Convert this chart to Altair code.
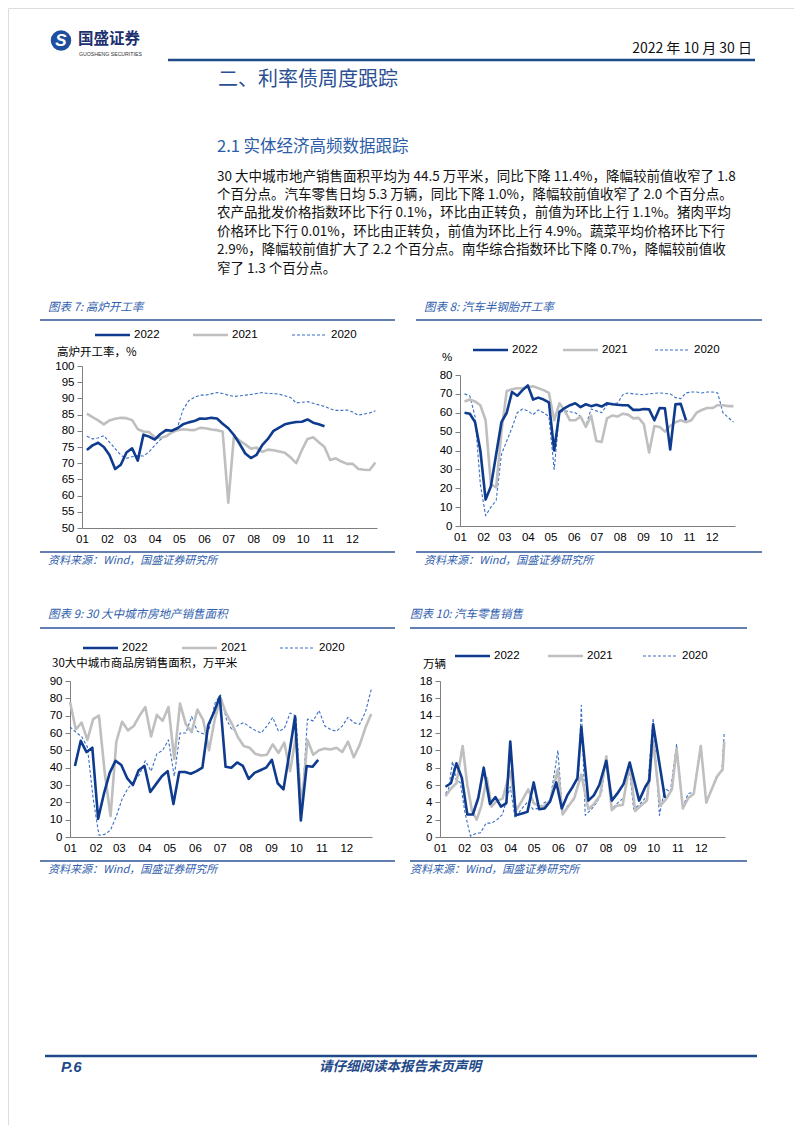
import altair as alt
import numpy as np
import pandas as pd

CJK = "Noto Sans CJK SC"
LAT = "Liberation Sans"
W, H = 786, 1117
M = 8

BLUE22 = "#0e3b8e"
GRAY21 = "#bfbfbf"
BLUE20 = "#3a6fc4"
HEAD = "#1f4a8a"
CAP = "#3060ad"
AX = "#7f7f7f"

# ---------------- data ----------------
years = ["2022", "2021", "2020"]

# weekly grids
wk22 = pd.date_range("2022-01-07", periods=52, freq="7D")
wk21 = pd.date_range("2022-01-01", periods=53, freq="7D")

# Chart 7: blast furnace operating rate (%)
c7_2022 = [74.1, 75.5, 76.3, 75.0, 72.5, 68.2, 69.5, 73.3, 74.6, 70.8, 78.8, 78.2, 77.3, 79.0,
           80.2, 80.0, 80.8, 82.0, 82.6, 83.0, 83.8, 83.7, 84.0, 83.8, 82.2, 80.8, 78.7, 76.0,
           73.0, 71.6, 72.6, 75.6, 77.5, 80.0, 81.0, 82.0, 82.4, 82.7, 82.8, 83.5, 82.5, 82.0, 81.4]
c7_2021 = [85.3, 84.2, 83.2, 82.0, 83.2, 83.7, 84.0, 83.9, 83.3, 80.5, 79.8, 79.6, 78.0, 77.8,
           78.3, 79.5, 80.2, 80.5, 80.3, 80.2, 80.9, 80.8, 80.4, 80.2, 79.8, 57.8, 78.5, 77.0,
           75.8, 74.5, 74.8, 73.5, 74.2, 74.0, 73.6, 73.2, 71.8, 70.0, 74.0, 77.5, 78.0, 76.5,
           75.0, 71.0, 71.5, 70.5, 69.8, 69.8, 68.2, 68.0, 67.9, 70.2]
c7_2020 = [78.3, 77.5, 77.8, 78.5, 76.5, 74.5, 72.5, 71.5, 72.0, 72.3, 72.2, 73.5, 75.5, 77.3,
           78.5, 79.5, 81.0, 86.5, 89.3, 90.3, 91.0, 91.0, 91.4, 91.8, 91.5, 91.0, 90.6, 90.8,
           91.0, 91.2, 91.5, 91.8, 91.5, 91.5, 91.3, 90.8, 90.3, 88.6, 88.8, 89.0, 88.5, 88.0,
           87.5, 86.8, 86.3, 86.3, 86.4, 85.8, 84.8, 85.2, 85.5, 86.2]

# Chart 8: semi-steel tyre operating rate (%)
c8_2022 = [60, 59.5, 55, 40, 14, 21, 38, 55, 60, 71, 69, 72, 74.5, 67, 68, 67, 65.5, 40, 60.5,
           62.5, 64, 65, 63, 64.5, 63.5, 64.2, 63.3, 65, 64.5, 64.2, 64, 64, 61.5, 61.5, 62, 61.8,
           56, 62.5, 62.3, 40.5, 64.5, 64.7, 56]
c8_2021 = [66, 67, 66, 64, 56, 22, 20.5, 50, 71.5, 72.5, 73, 73, 73.5, 74, 73, 72, 70.5, 56, 65,
           61, 56, 56, 58, 52.5, 58.5, 45, 44.5, 57, 58.5, 58, 59.5, 59, 57, 57.3, 54, 39, 53,
           52.5, 50, 53, 55, 56, 55, 56, 60, 61.5, 62.5, 62.5, 64, 64, 63.5, 63.5]
c8_2020 = [70, 69, 58, 22, 5.5, 10, 13.5, 38, 45, 52, 60, 62, 61, 59, 61.5, 60, 58, 30, 60, 61,
           60.5, 60, 58, 53, 62, 61, 60, 64, 65, 65, 69.5, 70.5, 70, 69.8, 69.5, 70, 70.3, 70.5,
           70.2, 70, 68, 67.5, 70.5, 71, 71, 70.5, 71, 71, 70.5, 60, 57.5, 55]

# Chart 9: 30-city housing sales area (10k m2)
c9_2022 = [41, 55.5, 49, 51.5, 10.5, 25, 37, 44, 41.5, 34, 30, 38.5, 41, 26, 30.5, 35, 38, 19,
           37.5, 37.5, 36.5, 38, 40, 64.5, 72, 81, 40.5, 40, 43, 41, 33.5, 37, 38.5, 40, 44.5,
           31, 27.5, 48, 69.5, 9.5, 41, 40.5, 44.5]
c9_2021 = [78, 62, 66, 56, 68, 70, 37, 12, 55, 66.5, 61.5, 64, 70, 75, 58, 70.5, 67, 75, 45, 77,
           65, 60.5, 73.5, 67.5, 50, 68, 80, 71, 65, 57.5, 52.5, 51.5, 48, 47, 47.5, 53.5, 48.5,
           54.5, 38, 58, 18, 56, 47.5, 50, 51, 50.5, 51.5, 49, 55, 46, 53, 63, 71]
c9_2020 = [63.5, 60.5, 58, 52, 22, 1, 1.5, 4, 12, 22, 28, 32, 36, 44, 38, 48, 50, 56, 35, 60, 60,
           69.5, 61, 59.5, 62, 77, 82, 68, 61.5, 64.5, 66, 63.5, 61.5, 60, 64, 69, 61, 62.5,
           71.5, 70, 16, 68, 67, 73, 64, 62, 61, 64, 69, 66, 65, 72, 85]

# Chart 10: car retail sales, daily average (10k units); day-of-year and value
c10_2022_doy = [8, 15, 22, 29, 36, 43, 50, 57, 65, 72, 79, 86, 91, 98, 106, 113, 121, 128, 135,
                142, 150, 157, 164, 171, 177, 182, 191, 198, 205, 214, 221, 228, 236, 244, 256,
                264, 269, 274, 289]
c10_2022 = [5.8, 6.2, 8.5, 6.8, 2.6, 2.6, 4.5, 8.0, 3.8, 4.6, 3.5, 3.9, 11.0, 2.5, 2.7, 2.9, 6.3,
            3.2, 3.3, 4.1, 6.3, 3.3, 4.8, 5.8, 6.8, 12.7, 4.2, 4.8, 6.0, 8.8, 4.2, 5.0, 6.1, 8.6,
            4.2, 5.8, 6.5, 13.0, 4.5]
c10_2021_doy = [8, 15, 22, 30, 36, 42, 48, 54, 61, 67, 74, 81, 91, 98, 106, 114, 121, 129, 135,
                142, 152, 158, 165, 173, 182, 191, 198, 206, 214, 221, 227, 235, 244, 251, 258,
                266, 274, 283, 290, 298, 304, 312, 319, 326, 335, 342, 349, 356, 363, 365]
c10_2021 = [4.7, 5.6, 6.2, 10.5, 6.0, 3.0, 2.0, 3.6, 6.8, 3.5, 4.2, 4.4, 7.6, 3.0, 4.2, 5.5, 3.9,
            3.5, 3.6, 4.2, 7.8, 2.6, 3.5, 4.5, 7.2, 3.2, 3.8, 4.8, 9.3, 3.1, 3.6, 3.7, 8.5, 3.0,
            3.6, 4.2, 11.0, 3.6, 4.3, 5.5, 10.2, 3.3, 4.5, 5.0, 10.5, 4.0, 5.5, 7.0, 7.8, 11.0]
c10_2020_doy = [8, 12, 17, 22, 27, 33, 40, 47, 53, 60, 67, 74, 81, 91, 97, 106, 113, 120, 127,
                135, 142, 152, 158, 165, 172, 178, 182, 187, 195, 202, 208, 214, 221, 227, 236,
                243, 249, 257, 266, 274, 282, 289, 296, 304, 312, 319, 326, 335, 342, 349, 355,
                362, 365]
c10_2020 = [5.0, 5.5, 8.7, 6.5, 6.3, 2.8, 0.1, 0.4, 0.5, 1.6, 1.6, 2.0, 2.6, 5.8, 2.2, 3.3, 4.0,
            3.2, 3.3, 4.0, 4.2, 10.0, 2.6, 3.7, 4.2, 6.3, 15.2, 2.5, 3.2, 4.0, 5.2, 9.2, 3.2, 3.8,
            4.5, 8.3, 3.2, 3.8, 4.7, 13.7, 2.5, 5.6, 5.2, 10.7, 3.5, 5.0, 5.2, 10.7, 3.8, 5.5,
            7.0, 7.6, 12.0]


def doy_dates(doys):
    return pd.Timestamp("2022-01-01") + pd.to_timedelta(np.array(doys) - 1, unit="D")


paragraph = [
    "30 大中城市地产销售面积平均为 44.5 万平米，同比下降 11.4%，降幅较前值收窄了 1.8",
    "个百分点。汽车零售日均 5.3 万辆，同比下降 1.0%，降幅较前值收窄了 2.0 个百分点。",
    "农产品批发价格指数环比下行 0.1%，环比由正转负，前值为环比上行 1.1%。猪肉平均",
    "价格环比下行 0.01%，环比由正转负，前值为环比上行 4.9%。蔬菜平均价格环比下行",
    "2.9%，降幅较前值扩大了 2.2 个百分点。南华综合指数环比下降 0.7%，降幅较前值收",
    "窄了 1.3 个百分点。",
]

# ---------------- helpers ----------------
ONE = pd.DataFrame({"k": [0]})


def T(s, x, y, size=12, color="#000", font=CJK, weight="normal", style="normal",
      align="left", baseline="middle"):
    return alt.Chart(pd.DataFrame({"t": [s]})).mark_text(
        align=align, baseline=baseline, fontSize=size, font=font, fontWeight=weight,
        fontStyle=style, color=color
    ).encode(x=alt.value(x - M), y=alt.value(y - M), text="t:N")


def R(x1, x2, y, color, w, dash=None):
    kw = dict(color=color, strokeWidth=w)
    if dash:
        kw["strokeDash"] = dash
    return alt.Chart(ONE).mark_rule(**kw).encode(
        x=alt.value(x1 - M), x2=alt.value(x2 - M), y=alt.value(y - M))


STYLES = {
    "2022": (BLUE22, 2.6, None),
    "2021": (GRAY21, 2.6, None),
    "2020": (BLUE20, 1.1, [3, 2]),
}

XDOM = [alt.DateTime(year=2022, month=1, date=1), alt.DateTime(year=2023, month=1, date=1)]
XTICKS = [alt.DateTime(year=2022, month=m, date=1) for m in range(1, 13)]


def panel(series, xr, yr, ydom, yvals):
    x0, x1 = xr
    yb, yt = yr
    xs = alt.Scale(domain=XDOM, range=[x0 - M, x1 - M], nice=False)
    ys = alt.Scale(domain=ydom, range=[yb - M, yt - M], nice=False, zero=False)
    xax = alt.Axis(values=XTICKS, format="%m", orient="bottom", offset=(yb - M) - H,
                   ticks=False, tickSize=0, labelPadding=5, labelFlush=False,
                   labelOverlap=False, labelBound=False, labelFont=LAT, labelFontSize=11.5,
                   labelColor="#000", domainColor=AX, domainWidth=1, grid=False, title=None)
    yax = alt.Axis(values=yvals, orient="left", offset=-(x0 - M), tickSize=5, tickColor=AX,
                   tickWidth=1, labelPadding=3, labelFlush=False, labelOverlap=False,
                   labelBound=False, labelFont=LAT, labelFontSize=11.5, labelColor="#000",
                   domainColor=AX, domainWidth=1, grid=False, title=None)
    layers = []
    for name in ["2020", "2021", "2022"]:
        dates, vals = series[name]
        color, w, dash = STYLES[name]
        kw = dict(color=color, strokeWidth=w, strokeJoin="round")
        if dash:
            kw["strokeDash"] = dash
        df = pd.DataFrame({"date": dates, "v": vals})
        layers.append(alt.Chart(df).mark_line(**kw).encode(
            x=alt.X("date:T", scale=xs, axis=xax),
            y=alt.Y("v:Q", scale=ys, axis=yax)))
    return alt.layer(*layers)


def legend(y, starts, length):
    out = []
    for name, x in zip(years, starts):
        color, w, dash = STYLES[name]
        out.append(R(x, x + length, y, color, w, dash))
        out.append(T(name, x + length + 4, y, size=11.5, font=LAT))
    return out


SRC = "资料来源：Wind，国盛证券研究所"

items = []
# header
items.append(alt.Chart(ONE).mark_circle(size=420, color="#1d4f9e", opacity=1).encode(
    x=alt.value(61 - M), y=alt.value(40.5 - M)))
items.append(T("S", 61, 41, size=17, color="white", font=LAT, weight="bold", style="italic",
               align="center"))
items.append(T("国盛证券", 78, 39, size=15.5, color="#1c3070", weight="bold"))
items.append(T("GUOSHENG SECURITIES", 79, 53.5, size=5.2, color="#333", font=LAT))
items.append(T("2022 年 10 月 30 日", 752, 49, size=14, color="#111", align="right"))
items.append(R(168, 755, 60, HEAD, 2.5))
items.append(T("二、利率债周度跟踪", 218, 80, size=20, color="#2b4f94"))
items.append(T("2.1 实体经济高频数据跟踪", 217, 147, size=16.5, color="#2b5ca8"))
for i, line in enumerate(paragraph):
    items.append(T(line, 217, 176.5 + 18.4 * i, size=13.5, color="#111"))

# captions, rules, sources
for (cap, cx, cy, lx0, lx1, ly, sy, sx) in [
    ("图表 7: 高炉开工率", 48, 308, 40, 395, 320, 552, 48),
    ("图表 8: 汽车半钢胎开工率", 424, 308, 416, 762, 320, 552, 424),
    ("图表 9: 30 大中城市房地产销售面积", 48, 615, 40, 395, 628, 861, 48),
    ("图表 10: 汽车零售销售", 410, 615, 410, 747, 628, 861, 410),
]:
    items.append(T(cap, cx, cy, size=11.5, color=CAP, style="italic"))
    items.append(R(lx0, lx1, ly, "#2f5597", 1.6))
    items.append(R(lx0, lx1, sy, "#2f5597", 1.3))
    items.append(T(SRC, sx, sy + 9, size=11, color=CAP, style="italic"))

# legends & y-titles
items += legend(335, [95, 193, 292], 35)
items += legend(350, [473, 563, 655], 35)
items += legend(648, [83, 182, 280], 35)
items += legend(656, [455, 548, 643], 35)
items.append(T("高炉开工率，%", 57, 353, size=11.5))
items.append(T("%", 442, 358, size=11.5, font=LAT))
items.append(T("30大中城市商品房销售面积，万平米", 52, 664, size=11.5))
items.append(T("万辆", 423, 665, size=11.5))

# footer
items.append(R(45, 757, 1056, HEAD, 2.5))
items.append(T("P.6", 61, 1067, size=15, color=HEAD, font=LAT, weight="bold", style="italic"))
items.append(T("请仔细阅读本报告末页声明", 400, 1067, size=13.5, color=HEAD, weight="bold",
               style="italic", align="center"))

# panels
p7 = panel({"2022": (wk22[:43], c7_2022), "2021": (wk22[:52], c7_2021),
            "2020": (wk22[:52], c7_2020)},
           (82, 377), (528, 366), [50, 100], list(range(50, 101, 5)))
p8 = panel({"2022": (wk22[:43], c8_2022), "2021": (wk22[:52], c8_2021),
            "2020": (wk22[:52], c8_2020)},
           (460, 735), (526, 375), [0, 80], list(range(0, 81, 10)))
p9 = panel({"2022": (wk22[:43], c9_2022), "2021": (wk21, c9_2021),
            "2020": (wk21, c9_2020)},
           (70, 372), (837, 681), [0, 90], list(range(0, 91, 10)))
p10 = panel({"2022": (doy_dates(c10_2022_doy), c10_2022),
             "2021": (doy_dates(c10_2021_doy), c10_2021),
             "2020": (doy_dates(c10_2020_doy), c10_2020)},
            (440, 725), (837, 681), [0, 18], list(range(0, 19, 2)))

chart = alt.layer(*items, p7, p8, p9, p10).resolve_scale(
    x="independent", y="independent"
).properties(
    width=W, height=H, padding=0, autosize=alt.AutoSizeParams(type="none")
).configure_view(stroke=None).configure(background="white")

chart.save("out.html", embed_options={"renderer": "svg", "actions": False})
